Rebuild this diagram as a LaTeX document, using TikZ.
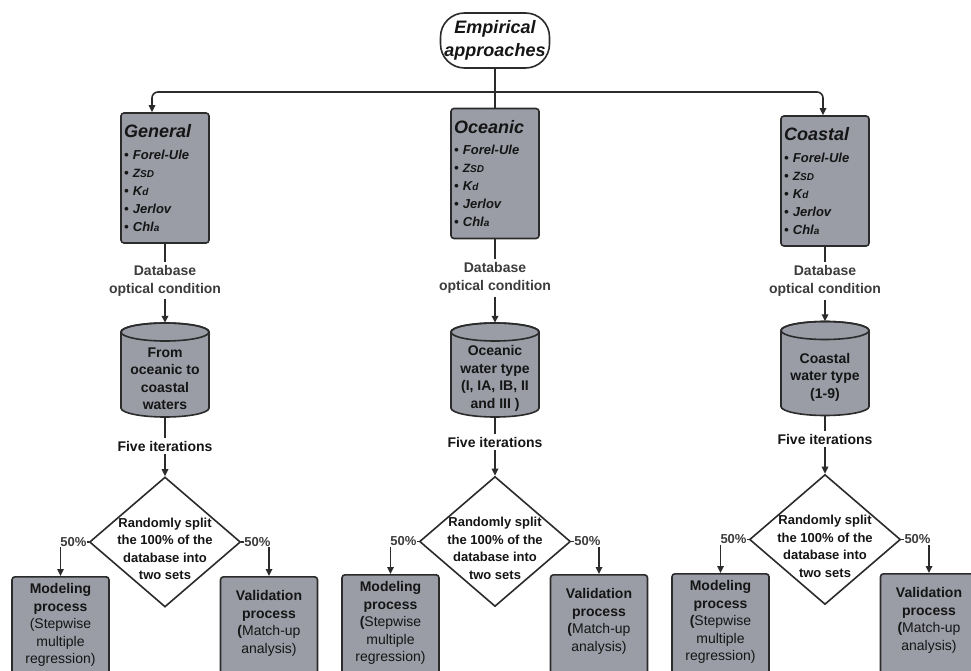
\documentclass[tikz,border=0pt]{standalone}
\usepackage{fontspec}
\setmainfont{Liberation Sans}
\usetikzlibrary{shapes.geometric,arrows.meta}
\definecolor{boxfill}{HTML}{9A9DA6}
\definecolor{edge}{HTML}{2B2B2B}
\definecolor{lbl}{HTML}{3C3C3C}
\definecolor{ink}{HTML}{151515}

\newcommand\flowcol[9]{%
  % info box
  \node[infobox] (#1box) at (#2,#3) {{\fontsize{18}{18}\selectfont \coltitle}\\[3.5pt]
    • Forel-Ule\\
    • {\fontsize{12}{12}\selectfont Z}{\fontsize{10}{10}\selectfont SD}\\
    • K{\fontsize{10}{10}\selectfont d}\\
    • Jerlov\\
    • Chl{\fontsize{10}{10}\selectfont a}};
  % label
  \node[lab] (#1db) at (#2,#4) {Database\\optical condition};
  % cylinder
  \path[line,fill=boxfill] (#2-44,#5-38) -- (#2-44,#5+38)
     arc[start angle=180,end angle=360,x radius=44pt,y radius=9pt]
     -- (#2+44,#5-38)
     arc[start angle=0,end angle=180,x radius=44pt,y radius=9pt] -- cycle;
  \draw[line] (#2,#5-38) ellipse[x radius=44pt,y radius=9pt];
  \node[cylarea] (#1cyl) at (#2,#5) {};
  \node[cyltext] (#1cyltxt) at (#2,#5+8.5) {#9};
  % five iterations
  \node[lab,text=ink] (#1five) at (#2,#6) {Five iterations};
  % split
  \node[split] (#1split) at (#2,#7) {};
  \node[splittext] (#1splittxt) at (#2,#7+7) {Randomly split\\the 100\% of the\\database into\\two sets};
  % process boxes
  \node[procbox] (#1mod) at (#2-104.5,#8) {};
  \node[procbox] (#1val) at (#2+104,#8) {};
  \node[proctext] (#1modtxt) at (#2-104.5,#8+49) {\textbf{Modeling}\\\textbf{process}\\\modparen Stepwise\\multiple\\regression)};
  \node[proctext] (#1valtxt) at (#2+104,#8+47.5) {\textbf{Validation}\\\textbf{process}\\\textbf{(}Match-up\\analysis)};
  % connectors
  \draw[line] (#1box.south) -- (#1db.north);
  \draw[arr] (#1db.south) -- (#1cyl.north);
  \draw[line] (#1cyl.south) -- (#1five.north);
  \draw[arr] (#1five.south) -- (#1split.north);
  \draw[arr] (#1split.west) -| (#1mod.north);
  \draw[arr] (#1split.east) -| (#1val.north);
  \node[pct] (#1pl) at (#2-91.5,#7) {50\%};
  \node[pct] (#1pr) at (#2+92.5,#7) {50\%};
}

\begin{document}
\begin{tikzpicture}[x=1pt,y=-1pt,
 line/.style={draw=edge,line width=1.6pt},
 arr/.style={line,-{Triangle[length=7pt,width=6.5pt]}},
 infobox/.style={draw=edge,line width=1.6pt,fill=boxfill,rounded corners=3pt,
   minimum width=88pt,minimum height=130pt,text width=82pt,inner xsep=3pt,inner ysep=0pt,
   align=left,font=\fontsize{13}{18}\selectfont\bfseries\itshape,text=ink},
 lab/.style={font=\fontsize{14}{18}\selectfont\bfseries,text=lbl,align=center,inner sep=3pt},
 cylarea/.style={minimum width=88pt,minimum height=94pt,inner sep=0pt},
 cyltext/.style={font=\fontsize{14}{17.5}\selectfont\bfseries,align=center,text=ink},
 split/.style={diamond,draw=edge,line width=1.6pt,fill=white,minimum width=151pt,minimum height=130pt,inner sep=0pt,aspect=1.16},
 splittext/.style={font=\fontsize{13}{17.5}\selectfont\bfseries,align=center,text=ink},
 procbox/.style={draw=edge,line width=1.6pt,fill=boxfill,rounded corners=3pt,minimum width=97pt,minimum height=130pt,anchor=north,inner sep=0pt},
 proctext/.style={font=\fontsize{14}{17.5}\selectfont,align=center,text=ink},
 pct/.style={font=\fontsize{13}{14}\selectfont\bfseries,text=lbl,fill=white,inner sep=0.5pt}
]
\clip (0,0) rectangle (971,671);
\fill[white] (0,0) rectangle (971,671);

\node[draw=edge,line width=1.6pt,fill=white,rounded corners=24pt,minimum width=109pt,minimum height=55pt,
  inner sep=0pt,align=center,font=\fontsize{18}{23}\selectfont\bfseries\itshape,text=ink]
  (emp) at (495,40.5) {Empirical\\approaches};
\coordinate (hub) at (495,92);

\def\coltitle{General}\def\modparen{(}
\flowcol{g}{165}{178}{280.5}{370}{446}{542}{576}{From\\oceanic to\\coastal\\waters}
\def\coltitle{Oceanic}\def\modparen{\textbf{(}}
\flowcol{o}{495}{173.5}{278}{370}{442}{541.5}{574}{Oceanic\\water type\\(I, IA, IB, II\\and III )}
\def\coltitle{Coastal}
\flowcol{c}{825}{181}{281}{368.5}{439}{539.5}{573}{Coastal\\water type\\(1-9)}

\draw[line] (emp.south) -- (obox.north);
\draw[arr,rounded corners=6pt] (hub) -| ([xshift=-13pt]gbox.north);
\draw[arr,rounded corners=6pt] (hub) -| ([xshift=-2pt]cbox.north);
\end{tikzpicture}
\end{document}
